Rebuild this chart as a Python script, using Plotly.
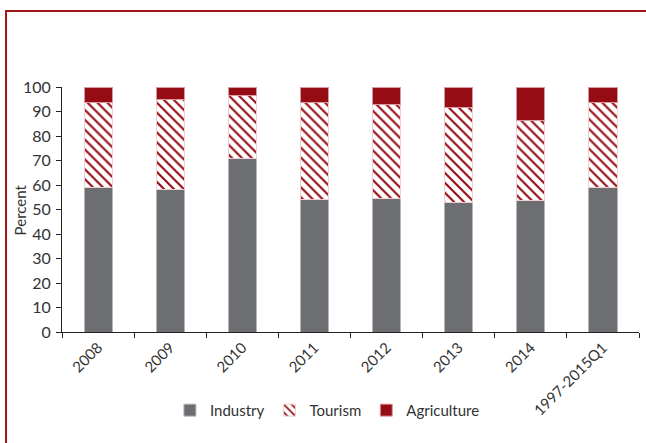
import plotly.graph_objects as go

# Share of inflows by sector, percent
periods = ["2008", "2009", "2010", "2011", "2012", "2013", "2014", "1997-2015Q1"]
industry = [59.0, 58.2, 70.7, 54.1, 54.6, 52.9, 53.5, 58.9]
tourism = [34.8, 36.5, 25.7, 39.7, 38.1, 38.8, 33.0, 34.9]
agriculture = [6.2, 5.3, 3.6, 6.2, 7.3, 8.3, 13.5, 6.2]

GREY = "#6d6e71"
RED = "#960c14"
FONT = "Lato"

fig = go.Figure()
fig.add_trace(go.Bar(
    x=periods, y=industry, name="Industry",
    marker=dict(color=GREY, line=dict(color="#b5b6b8", width=1)),
))
fig.add_trace(go.Bar(
    x=periods, y=tourism, name="Tourism",
    marker=dict(
        color="white",
        line=dict(color="#f0d0d2", width=1),
        pattern=dict(shape="\\", fgcolor=RED, bgcolor="white", fgopacity=1,
                     size=7, solidity=0.3),
    ),
))
fig.add_trace(go.Bar(
    x=periods, y=agriculture, name="Agriculture",
    marker=dict(color=RED, line=dict(color="#d99a9e", width=1)),
))

# dark red frame around the whole figure (runs off the right and bottom edges)
fig.add_shape(type="rect", xref="paper", yref="paper",
              x0=-0.097, x1=1.03, y0=-0.5, y1=1.31,
              line=dict(color="#a3141c", width=2), fillcolor="rgba(0,0,0,0)")

# y axis title
fig.add_annotation(text="Percent", xref="paper", yref="paper", x=-0.073, y=0.5,
                   xanchor="center", yanchor="middle", textangle=-90, showarrow=False,
                   font=dict(size=15, color="#333333"))

fig.update_layout(
    barmode="stack",
    bargap=0.61,
    width=646, height=443,
    margin=dict(l=62, r=7, t=87, b=111, autoexpand=False),
    paper_bgcolor="white", plot_bgcolor="white",
    font=dict(family=FONT, size=14, color="#333333"),
    showlegend=True,
    legend=dict(orientation="h", x=0.46, xanchor="center", y=-0.32, yanchor="middle",
                font=dict(size=15, color="#333333"), traceorder="normal",
                itemwidth=30, tracegroupgap=0),
)
fig.update_xaxes(
    automargin=False,
    showline=True, linecolor="#222222", linewidth=1,
    ticks="outside", ticklen=5, tickcolor="#222222", tickson="boundaries",
    tickangle=-45, tickfont=dict(size=15, color="#333333"),
    showgrid=False,
)
fig.update_yaxes(
    automargin=False,
    range=[0, 100], dtick=10,
    showline=True, linecolor="#222222", linewidth=1,
    ticks="outside", ticklen=5, tickcolor="#222222",
    tickfont=dict(size=16, color="#333333"), ticklabelstandoff=2,
    showgrid=False, zeroline=False,
)

# drop the browser's default body margin so the figure sits at the window corner
fig.write_html("out.html", config={"displayModeBar": False},
               post_script="document.body.style.margin='0';")
